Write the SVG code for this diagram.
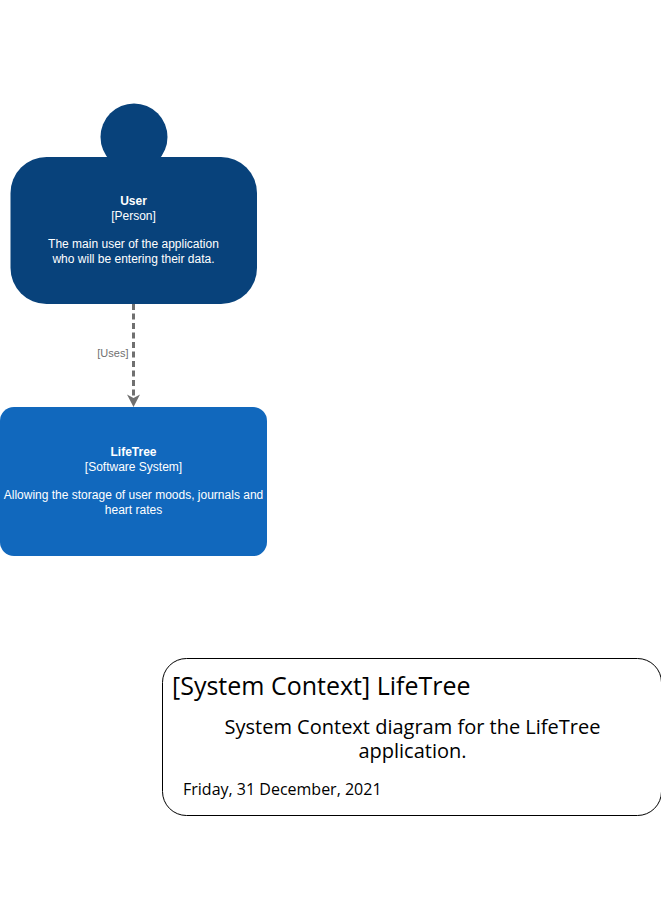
<svg xmlns="http://www.w3.org/2000/svg" width="661" height="920" viewBox="0 0 661 920">
<style>
.n{font-family:"Liberation Sans",Arial,sans-serif;font-size:12px;fill:#fff;text-anchor:middle}
.b{font-weight:bold}
.o{font-family:"Open Sans",sans-serif;fill:#000}
.c{text-anchor:middle}
</style>
<defs>
<marker id="arrow" markerUnits="userSpaceOnUse" markerWidth="14" markerHeight="14" refX="6.500" refY="7" orient="auto">
<path d="M13 7 L0.500 0.500 L4 7 L0.500 13.500 Z" fill="#707070"/>
</marker>
</defs>
<rect width="661" height="920" fill="#fff"/>
<g id="connectors">
<path d="M133.500 304V400.500" fill="none" stroke="#707070" stroke-width="3" stroke-dasharray="6 3.500" marker-end="url(#arrow)"/>
<text x="128.500" y="357" font-family="Liberation Sans,Arial,sans-serif" font-size="11" fill="#707070" text-anchor="end">[Uses]</text>
</g>
<g id="user">
<circle cx="134" cy="137" r="33.500" fill="#08427b"/>
<rect x="10.500" y="157" width="246.500" height="147" rx="36" fill="#08427b"/>
<text class="n b" x="133.500" y="205">User</text>
<text class="n" x="133.500" y="220">[Person]</text>
<text class="n" x="133.500" y="248">The main user of the application</text>
<text class="n" x="133.500" y="263">who will be entering their data.</text>
</g>
<g id="lifetree">
<rect x="0" y="407" width="267" height="149" rx="14" fill="#1168bd"/>
<text class="n b" x="133.500" y="456">LifeTree</text>
<text class="n" x="133.500" y="471">[Software System]</text>
<text class="n" x="133.500" y="499">Allowing the storage of user moods, journals and</text>
<text class="n" x="133.500" y="514">heart rates</text>
</g>
<g id="legend">
<rect x="162.500" y="658.500" width="499" height="157" rx="24" fill="#fff" stroke="#000"/>
<text class="o" x="172" y="695" font-size="25">[System Context] LifeTree</text>
<text class="o c" font-size="20"><tspan x="412.500" y="734">System Context diagram for the LifeTree</tspan><tspan x="412.500" y="758">application.</tspan></text>
<text class="o" x="183" y="795" font-size="16">Friday, 31 December, 2021</text>
</g>
</svg>
